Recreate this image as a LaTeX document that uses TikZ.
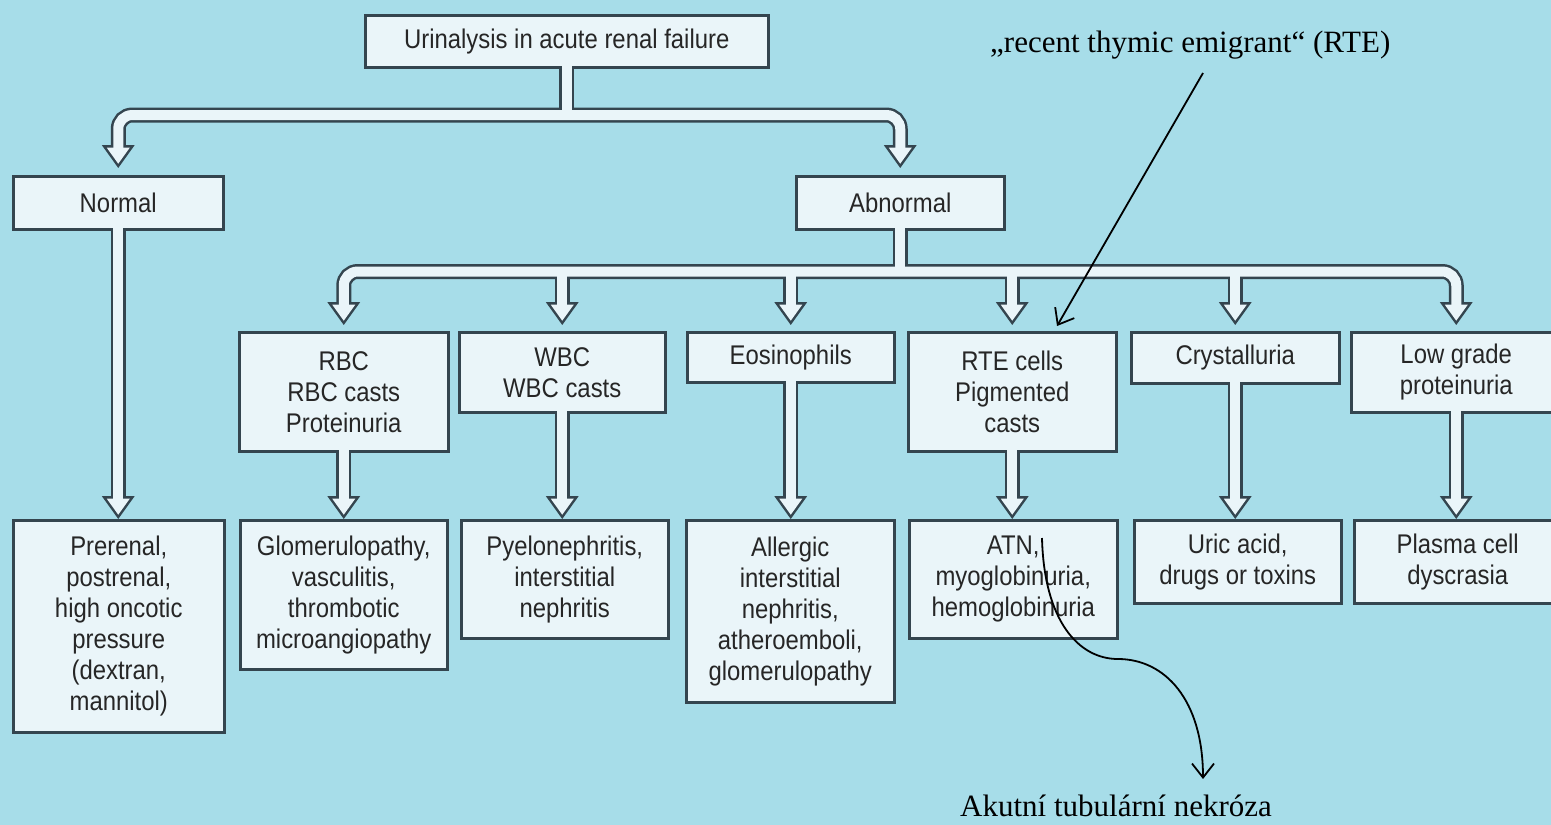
\documentclass[tikz,border=0pt]{standalone}
\usepackage{fontspec}
\usetikzlibrary{calc,arrows.meta}

\newfontfamily\boxfont[FakeStretch=0.885]{Liberation Sans}
\newfontfamily\notefont{Liberation Serif}

\definecolor{bg}{HTML}{A7DDE9}
\definecolor{boxfill}{HTML}{EAF5F9}
\definecolor{edge}{HTML}{34454F}
\definecolor{ink}{HTML}{262626}

\tikzset{
  box/.style={draw=edge, fill=boxfill, line width=2.5pt, inner sep=0pt,
    align=center, anchor=north west, text=ink,
    font=\boxfont\fontsize{27}{31}\selectfont},
  note/.style={font=\notefont\fontsize{31}{36}\selectfont, text=black, inner sep=0pt},
  pipedark/.style={draw=edge, line width=15pt},
  pipelight/.style={draw=boxfill, line width=10pt},
  headdark/.style={fill=edge, draw=edge, line width=5pt, line join=miter},
  headlight/.style={fill=boxfill},
  pointer/.style={draw=black, line width=1.8pt,
    -{Straight Barb[length=14pt,width=22pt]}},
}

% open triangular head whose visible tip sits at #2
\newcommand\hollowhead[2]{%
  \path[#1] ($(#2)+(0,4.3)$) -- ++(-11.5,16) -- ++(23,0) -- cycle;}

% all hollow connectors; drawn once dark and wide, once light and narrow
% #1 pipe style, #2 head style, #3 how far the pipe reaches into its source box
\newcommand\pipework[3]{%
  % Urinalysis -> Normal / Abnormal
  \path[#1] ([yshift=#3]top.south) -- (top.south |- 0,-115);
  \path[#1, rounded corners=14pt] ($(tNormal)+(0,17.3)$) |- (abnormal.north |- 0,-115)
       -- ($(tAbnormal)+(0,17.3)$);
  % Abnormal -> six findings
  \path[#1] ([yshift=#3]abnormal.south) -- (abnormal.south |- 0,-271.5);
  \path[#1, rounded corners=14pt] ($(tRbc)+(0,17.3)$) |- (low.north |- 0,-271.5)
       -- ($(tLow)+(0,17.3)$);
  \foreach \t in {tWbc,tEos,tRte,tCrys}
    \path[#1] (\t |- 0,-271.5) -- ($(\t)+(0,17.3)$);
  % findings -> diagnoses
  \path[#1] ([yshift=#3]normal.south) -- ($(tPre)+(0,17.3)$);
  \path[#1] ([yshift=#3]rbc.south) -- ($(tGlom)+(0,17.3)$);
  \path[#1] ([yshift=#3]wbc.south) -- ($(tPyelo)+(0,17.3)$);
  \path[#1] ([yshift=#3]eos.south) -- ($(tAll)+(0,17.3)$);
  \path[#1] ([yshift=#3]rte.south) -- ($(tAtn)+(0,17.3)$);
  \path[#1] ([yshift=#3]crys.south) -- ($(tUric)+(0,17.3)$);
  \path[#1] ([yshift=#3]low.south) -- ($(tPlasma)+(0,17.3)$);
  \foreach \t in {tNormal,tAbnormal,tRbc,tWbc,tEos,tRte,tCrys,tLow,
                  tPre,tGlom,tPyelo,tAll,tAtn,tUric,tPlasma}
    \hollowhead{#2}{\t};
}

\begin{document}
\begin{tikzpicture}[x=1pt,y=1pt]
\useasboundingbox (0,0) rectangle (1551,-825);
\fill[bg] (0,0) rectangle (1551,-825);
\clip (0,0) rectangle (1551,-825);

% level 0 and 1
\node[box, minimum width=403pt, minimum height=52pt] (top) at (364,-14)
  {Urinalysis in acute renal failure};
\node[box, minimum width=210pt, minimum height=53pt] (normal) at (12,-175) {Normal};
\node[box, minimum width=208pt, minimum height=53pt] (abnormal) at (795,-175) {Abnormal};

% level 2: urinary findings
\node[box, minimum width=209pt, minimum height=119pt] (rbc) at (238,-331)
  {RBC\\RBC casts\\Proteinuria};
\node[box, minimum width=206pt, minimum height=80pt] (wbc) at (458,-331)
  {WBC\\WBC casts};
\node[box, minimum width=207pt, minimum height=50pt] (eos) at (686,-331)
  {Eosinophils};
\node[box, minimum width=208pt, minimum height=119pt] (rte) at (907,-331)
  {RTE cells\\Pigmented\\casts};
\node[box, minimum width=208pt, minimum height=51pt] (crys) at (1130,-331)
  {Crystalluria};
\node[box, minimum width=210pt, minimum height=80pt] (low) at (1350,-331)
  {Low grade\\proteinuria};

% level 3: diagnoses
\node[box, minimum width=211pt, minimum height=212pt] (pre) at (12,-519)
  {Prerenal,\\postrenal,\\high oncotic\\pressure\\(dextran,\\mannitol)};
\node[box, minimum width=207pt, minimum height=149pt] (glom) at (239,-519)
  {Glomerulopathy,\\vasculitis,\\thrombotic\\microangiopathy};
\node[box, minimum width=207pt, minimum height=118pt] (pyelo) at (460,-519)
  {Pyelonephritis,\\interstitial\\nephritis};
\node[box, minimum width=208pt, minimum height=182pt] (all) at (685,-519)
  {Allergic\\interstitial\\nephritis,\\atheroemboli,\\glomerulopathy};
\node[box, minimum width=208pt, minimum height=118pt] (atn) at (908,-519)
  {ATN,\\myoglobinuria,\\hemoglobinuria};
\node[box, minimum width=207pt, minimum height=83pt] (uric) at (1133,-519)
  {Uric acid,\\drugs or toxins};
\node[box, minimum width=207pt, minimum height=83pt] (plasma) at (1353,-519)
  {Plasma cell\\dyscrasia};

% arrow tips
\coordinate (tNormal)   at ($(normal.north)+(0,7)$);
\coordinate (tAbnormal) at ($(abnormal.north)+(0,7)$);
\foreach \n/\t in {rbc/tRbc,wbc/tWbc,eos/tEos,rte/tRte,crys/tCrys,low/tLow}
  \coordinate (\t) at ($(\n.north)+(0,6)$);
\coordinate (tPre)    at (pre.north -| normal.south);
\coordinate (tGlom)   at (glom.north -| rbc.south);
\coordinate (tPyelo)  at (pyelo.north -| wbc.south);
\coordinate (tAll)    at (all.north -| eos.south);
\coordinate (tAtn)    at (atn.north -| rte.south);
\coordinate (tUric)   at (uric.north -| crys.south);
\coordinate (tPlasma) at (plasma.north -| low.south);

% hollow connectors: outline pass, then fill pass
\pipework{pipedark}{headdark}{0pt}
\pipework{pipelight}{headlight}{3pt}

% annotations
\node[note, anchor=base west] (rtenote) at (990,-52)
  {„recent thymic emigrant“ (RTE)};
\coordinate (rtefrom) at (1203,-73);
\coordinate (rteto) at (1057,-326);
\draw[pointer] (rtefrom) -- (rteto);

\node[note, anchor=base] (atnnote) at (1116,-816) {Akutní tubulární nekróza};
\coordinate (atnfrom) at (1042,-538);
\coordinate (atnto) at (1203,-779);
\draw[pointer] (atnfrom) .. controls (1044,-620) and (1078,-659) .. (1118,-659)
  .. controls (1165,-659) and (1203,-700) .. (atnto);
\end{tikzpicture}
\end{document}
